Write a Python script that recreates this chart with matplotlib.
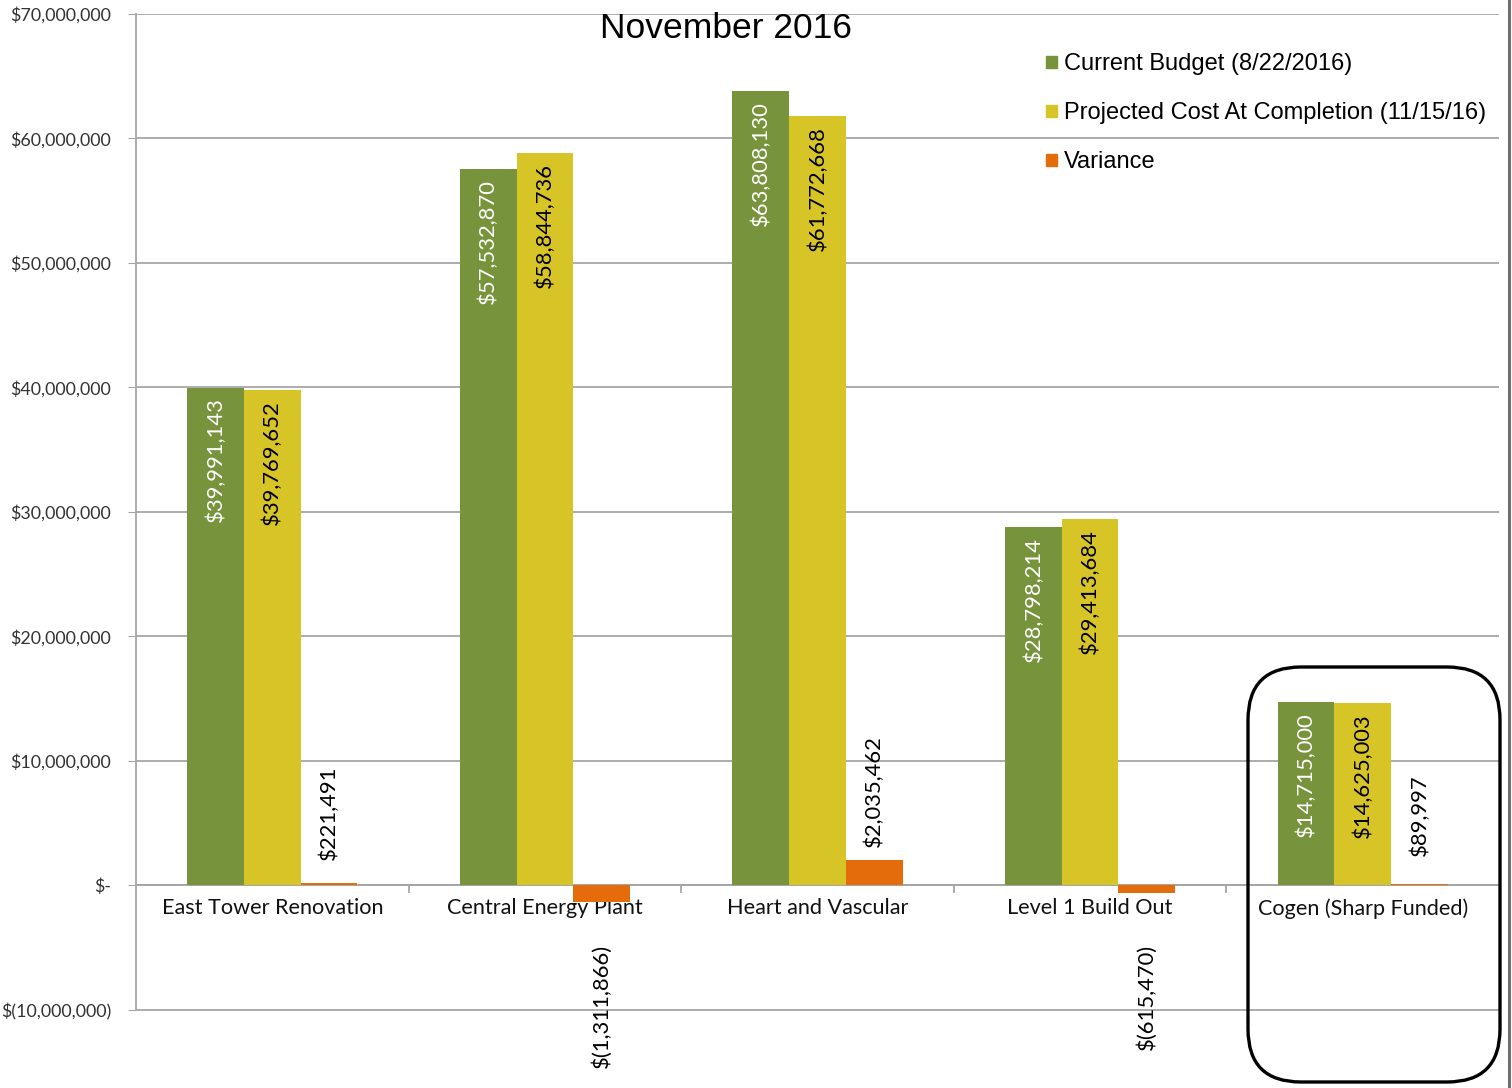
import matplotlib
matplotlib.use("Agg")
import matplotlib.pyplot as plt
import numpy as np
from matplotlib.patches import FancyBboxPatch, Patch
from matplotlib.lines import Line2D
from matplotlib.ticker import FuncFormatter, FixedLocator

categories = ["East Tower Renovation", "Central Energy Plant", "Heart and Vascular",
              "Level 1 Build Out", "Cogen (Sharp Funded)"]
current_budget = [39991143, 57532870, 63808130, 28798214, 14715000]
projected_cost = [39769652, 58844736, 61772668, 29413684, 14625003]
variance = [221491, -1311866, 2035462, -615470, 89997]
series_names = ["Current Budget (8/22/2016)", "Projected Cost At Completion (11/15/16)", "Variance"]
title_text = "November 2016"
y_ticks = [-10000000, 0, 10000000, 20000000, 30000000, 40000000, 50000000, 60000000, 70000000]

GREEN = "#77933C"
YELLOW = "#D7C426"
ORANGE = "#E46C0A"
GRID = "#A6A6A6"

W, H = 1512, 1088
fig = plt.figure(figsize=(W / 100, H / 100), dpi=100)
ax = fig.add_axes([136 / W, 0, (1499 - 136) / W, 1 - 14 / H])

x = np.arange(len(categories))
bw = 0.208
b1 = ax.bar(x - bw, current_budget, bw, color=GREEN, zorder=3)
b2 = ax.bar(x, projected_cost, bw, color=YELLOW, zorder=3)
b3 = ax.bar(x + bw, variance, bw, color=ORANGE, zorder=3)

ax.set_xlim(-0.5, len(categories) - 0.5)
ax.set_ylim(-16.27e6, 70e6)

def money(v, pos=None):
    if v == 0:
        return "$-"
    if v < 0:
        return "$({:,.0f})".format(-v)
    return "${:,.0f}".format(v)

ax.yaxis.set_major_locator(FixedLocator(y_ticks))
ax.yaxis.set_major_formatter(FuncFormatter(money))
ax.grid(axis="y", color=GRID, linewidth=1.3, zorder=0)
ax.set_axisbelow(True)

for s in ["top", "right"]:
    ax.spines[s].set_visible(False)
ax.spines["left"].set_bounds(-10e6, 70e6)
ax.spines["left"].set_color(GRID)
ax.spines["left"].set_linewidth(1.3)
ax.spines["bottom"].set_position(("data", 0))
ax.spines["bottom"].set_color(GRID)
ax.spines["bottom"].set_linewidth(1.3)

ax.tick_params(axis="y", length=6, color=GRID, labelsize=12.9, pad=12)
for lab in ax.get_yticklabels():
    lab.set_family("Lato")
    lab.set_color("#333333")

ax.set_xticks(x)
ax.set_xticklabels(categories, fontsize=15.6, family="Lato", color="#111111")
ax.tick_params(axis="x", which="major", length=0, pad=9)
ax.set_xticks(np.arange(len(categories) - 1) + 0.5, minor=True)
ax.tick_params(axis="x", which="minor", length=6, color=GRID, width=1.3)

lab_kw = dict(rotation=90, fontsize=15.8, family="Lato", ha="center",
              textcoords="offset points", zorder=5)
for i in range(len(categories)):
    ax.annotate(money(current_budget[i]), (x[i] - bw, current_budget[i]), xytext=(0, -7),
                va="top", color="white", **lab_kw)
    ax.annotate(money(projected_cost[i]), (x[i], projected_cost[i]), xytext=(0, -7),
                va="top", color="black", **lab_kw)
    v = variance[i]
    off = 50 if v > 0 else -75
    ax.annotate(money(v), (x[i] + bw, v), xytext=(0, off),
                va="center", color="black", **lab_kw)

handles = [Patch(color=GREEN), Patch(color=YELLOW), Patch(color=ORANGE)]
leg = fig.legend(handles, series_names, loc="upper left",
                 bbox_to_anchor=(1037 / W, 1 - 44 / H), frameon=False,
                 prop={"family": "Liberation Sans", "size": 17},
                 handlelength=0.45, handleheight=0.45, handletextpad=0.3,
                 labelspacing=1.14, borderaxespad=0)

fig.text(726 / W, 1 - 29 / H, title_text, ha="center", va="center",
         fontsize=25.5, family="Liberation Sans", color="black")

# rounded highlight box around the Cogen group
box = FancyBboxPatch((1248 / W, 6 / H), (1500 - 1248) / W, (1082 - 667) / H,
                     boxstyle="round,pad=0,rounding_size=0.035",
                     transform=fig.transFigure, fill=False, edgecolor="black",
                     linewidth=2.4, zorder=10, mutation_aspect=W / H)
fig.patches.append(box)

fig.add_artist(Line2D([1508.5 / W, 1508.5 / W], [0, 1], transform=fig.transFigure,
                      color="#6E6E6E", linewidth=2.2))

fig.savefig("out.png", dpi=100, facecolor="white")
